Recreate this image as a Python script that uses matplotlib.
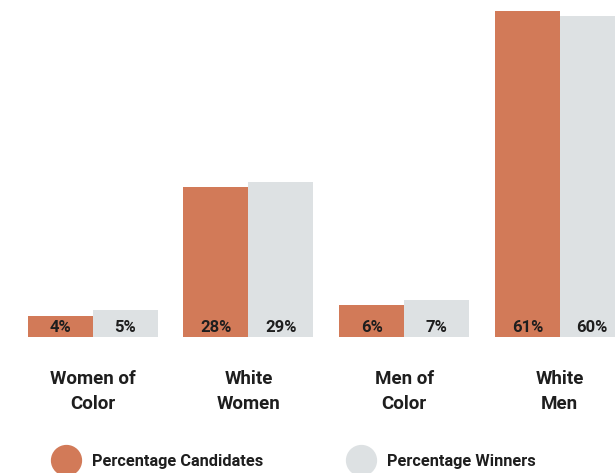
import matplotlib
matplotlib.use("Agg")
import matplotlib.pyplot as plt
from matplotlib.lines import Line2D
import numpy as np

categories = ["Women of\nColor", "White\nWomen", "Men of\nColor", "White\nMen"]
candidates = [4, 28, 6, 61]
winners = [5, 29, 7, 60]
series_names = ["Percentage Candidates", "Percentage Winners"]

ORANGE = "#D27A58"
GRAY = "#DDE1E3"
TEXT = "#1E1E1E"

plt.rcParams["font.family"] = ["Roboto", "DejaVu Sans"]

fig = plt.figure(figsize=(6.15, 4.73), dpi=100)
ax = fig.add_axes([0, (473 - 337) / 473, 1, 337 / 473])

x = np.arange(len(categories))
w = 0.417
b1 = ax.bar(x - w / 2, candidates, w, color=ORANGE, linewidth=0)
b2 = ax.bar(x + w / 2, winners, w, color=GRAY, linewidth=0)

ax.set_xlim(-92.7 / 155.7, (615 - 92.7) / 155.7)
ax.set_ylim(0, 61 * 337 / 326)
ax.axis("off")

for bars, vals in ((b1, candidates), (b2, winners)):
    for r, v in zip(bars, vals):
        ax.annotate(f"{v}%", xy=(r.get_x() + r.get_width() / 2, 0),
                    xytext=(0, 6.5), textcoords="offset points",
                    ha="center", va="center", fontsize=12,
                    fontweight="bold", color=TEXT, annotation_clip=False)

for xi, c in zip(x, categories):
    ax.annotate(c, xy=(xi, 0), xytext=(0, -39), textcoords="offset points",
                ha="center", va="center", fontsize=13.5, fontweight="bold",
                color=TEXT, linespacing=1.5, annotation_clip=False)

colors = [ORANGE, GRAY]
anchors_px = [56, 351]
fs = 11.8
for name, col, ax_px in zip(series_names, colors, anchors_px):
    h = Line2D([], [], marker="o", linestyle="", markersize=21.5,
               markerfacecolor=col, markeredgecolor=col)
    fig.legend([h], [name], loc="center left",
               bbox_to_anchor=(ax_px / 615, 1 - 461 / 473), frameon=False,
               prop={"weight": "bold", "size": fs}, handletextpad=0.99,
               handlelength=1.2, borderaxespad=0, borderpad=0,
               labelcolor=TEXT)

fig.savefig("out.png", dpi=100, facecolor="white")
